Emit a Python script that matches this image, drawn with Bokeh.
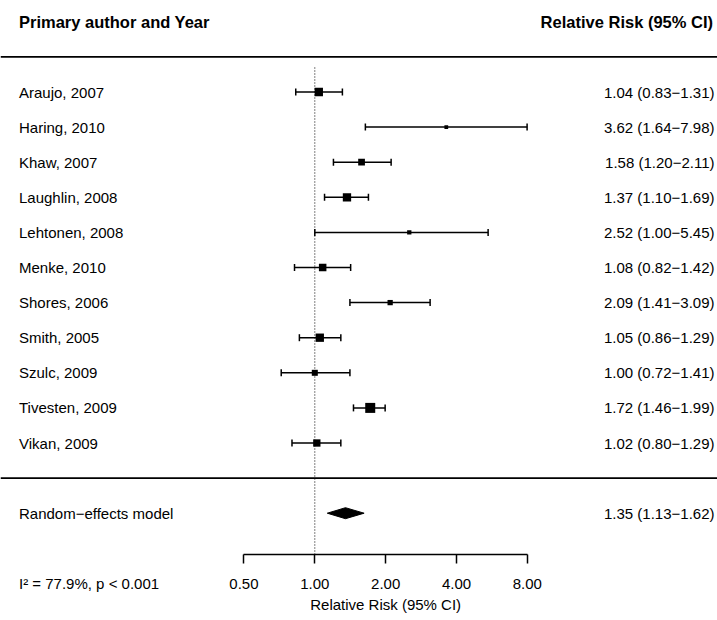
from bokeh.plotting import figure
from bokeh.models import (Range1d, FixedTicker, PrintfTickFormatter, ColumnDataSource,
                          LabelSet, Label, Span, Whisker, TeeHead)
from bokeh.core.properties import value
from bokeh.embed import file_html
from bokeh.resources import INLINE
import math

# ---------------- data ----------------
studies = ["Araujo, 2007", "Haring, 2010", "Khaw, 2007", "Laughlin, 2008",
           "Lehtonen, 2008", "Menke, 2010", "Shores, 2006", "Smith, 2005",
           "Szulc, 2009", "Tivesten, 2009", "Vikan, 2009"]
rr = [1.04, 3.62, 1.58, 1.37, 2.52, 1.08, 2.09, 1.05, 1.00, 1.72, 1.02]
lower = [0.83, 1.64, 1.20, 1.10, 1.00, 0.82, 1.41, 0.86, 0.72, 1.46, 0.80]
upper = [1.31, 7.98, 2.11, 1.69, 5.45, 1.42, 3.09, 1.29, 1.41, 1.99, 1.29]
weights = [12.4, 2.5, 8.1, 12.4, 3.3, 10.1, 5.0, 12.4, 6.5, 17.9, 9.6]
pooled_label = "Random\u2212effects model"
pooled_rr, pooled_lo, pooled_hi = 1.35, 1.13, 1.62
heterogeneity = "I\u00b2 = 77.9%, p < 0.001"
x_ticks = [0.5, 1, 2, 4, 8]
null_value = 1.0
left_header = "Primary author and Year"
right_header = "Relative Risk (95% CI)"
axis_title = "Relative Risk (95% CI)"

# ---------------- layout constants ----------------
W, H = 717, 620
PX_PER_DOUBLING = 70.85
X_ONE = 314.3          # x pixel of RR = 1
ROW0 = 91.5            # y pixel of first row
PITCH = 35.1           # px between rows
AXIS_Y = 554.0         # y pixel of the x axis line
FONT = "Liberation Sans"
MAX_BOX = 10.0

x_start = 2 ** (-X_ONE / PX_PER_DOUBLING)
x_end = 2 ** ((W - X_ONE) / PX_PER_DOUBLING)
y_top = -ROW0 / PITCH
y_bot = (H - ROW0) / PITCH
axis_row = (AXIS_Y - ROW0) / PITCH

n = len(studies)
rows = list(range(n))
wmax = max(weights)
sizes = [MAX_BOX * math.sqrt(w / wmax) for w in weights]
ci_text = [f"{a:.2f} ({b:.2f}\u2212{c:.2f})" for a, b, c in zip(rr, lower, upper)]

src = ColumnDataSource(dict(row=rows, rr=rr, lo=lower, hi=upper, size=sizes,
                            study=studies, ci=ci_text))

p = figure(width=W, height=H, x_axis_type="log",
           x_range=Range1d(x_start, x_end), y_range=Range1d(y_bot, y_top),
           output_backend="svg", toolbar_location=None, y_axis_location=None,
           min_border_left=0, min_border_right=0, min_border_top=0,
           min_border_bottom=0)
p.outline_line_color = None
p.grid.visible = False
p.background_fill_color = "white"
p.border_fill_color = "white"

# reference line (dotted) at RR = 1
p.segment(x0=null_value, x1=null_value, y0=(67 - ROW0) / PITCH, y1=axis_row,
          line_color="black", line_width=1, line_dash="1 2")

# confidence intervals
cap = dict(size=7, line_width=1.5, line_color="black")
wh = Whisker(source=src, base="row", lower="lo", upper="hi", dimension="width",
             line_color="black", line_width=1.5,
             lower_head=TeeHead(**cap), upper_head=TeeHead(**cap))
p.add_layout(wh)

# point estimates
p.scatter(x="rr", y="row", size="size", marker="square", source=src,
          fill_color="black", line_color=None)

# pooled diamond
pooled_row = n + 1
dh = 5.5 / PITCH
p.patch(x=[pooled_lo, pooled_rr, pooled_hi, pooled_rr],
        y=[pooled_row, pooled_row - dh, pooled_row, pooled_row + dh],
        fill_color="black", line_color="black", line_width=1)

# horizontal rules
for loc in (-1, n):
    p.add_layout(Span(location=loc, dimension="width", line_color="black", line_width=1.8))

# text columns
lbl = dict(text_font=FONT, text_font_size="15px", text_color="black",
           text_baseline="middle")
lset = dict(lbl, text_font=value(FONT))
LEFT_X, RIGHT_X = 18.5, 714
p.add_layout(LabelSet(x=LEFT_X, x_units="screen", y="row", text="study", source=src,
                      text_align="left", **lset))
p.add_layout(LabelSet(x=RIGHT_X, x_units="screen", y="row", text="ci", source=src,
                      text_align="right", **lset))
p.add_layout(Label(x=LEFT_X, x_units="screen", y=pooled_row, text=pooled_label,
                   text_align="left", **lbl))
p.add_layout(Label(x=RIGHT_X, x_units="screen", y=pooled_row,
                   text=f"{pooled_rr:.2f} ({pooled_lo:.2f}\u2212{pooled_hi:.2f})",
                   text_align="right", **lbl))
hdr = dict(lbl, text_font_size="16.5px", text_font_style="bold")
p.add_layout(Label(x=LEFT_X, x_units="screen", y=-2, text=left_header, text_align="left", **hdr))
p.add_layout(Label(x=712.5, x_units="screen", y=-2, text=right_header, text_align="right", **hdr))
p.add_layout(Label(x=LEFT_X, x_units="screen", y=(582.7 - ROW0) / PITCH, text=heterogeneity,
                   text_align="left", **lbl))
# axis title, centred under the axis
p.add_layout(Label(x=math.sqrt(min(x_ticks) * max(x_ticks)), y=(604 - ROW0) / PITCH,
                   text=axis_title, text_align="center", **lbl))

# x axis, drawn at a fixed location inside the frame
ax = p.xaxis[0]
ax.fixed_location = axis_row
ax.ticker = FixedTicker(ticks=x_ticks)
ax.formatter = PrintfTickFormatter(format="%.2f")
ax.bounds = (min(x_ticks), max(x_ticks))
ax.axis_line_width = 1.5
ax.axis_line_color = "black"
ax.major_tick_line_color = "black"
ax.major_tick_line_width = 1.5
ax.major_tick_in = 0
ax.major_tick_out = 9
ax.minor_tick_line_color = None
ax.major_label_standoff = 15
ax.major_label_text_font = FONT
ax.major_label_text_font_size = "15px"
ax.major_label_text_color = "black"

open("out.html", "w").write(file_html(p, INLINE))
